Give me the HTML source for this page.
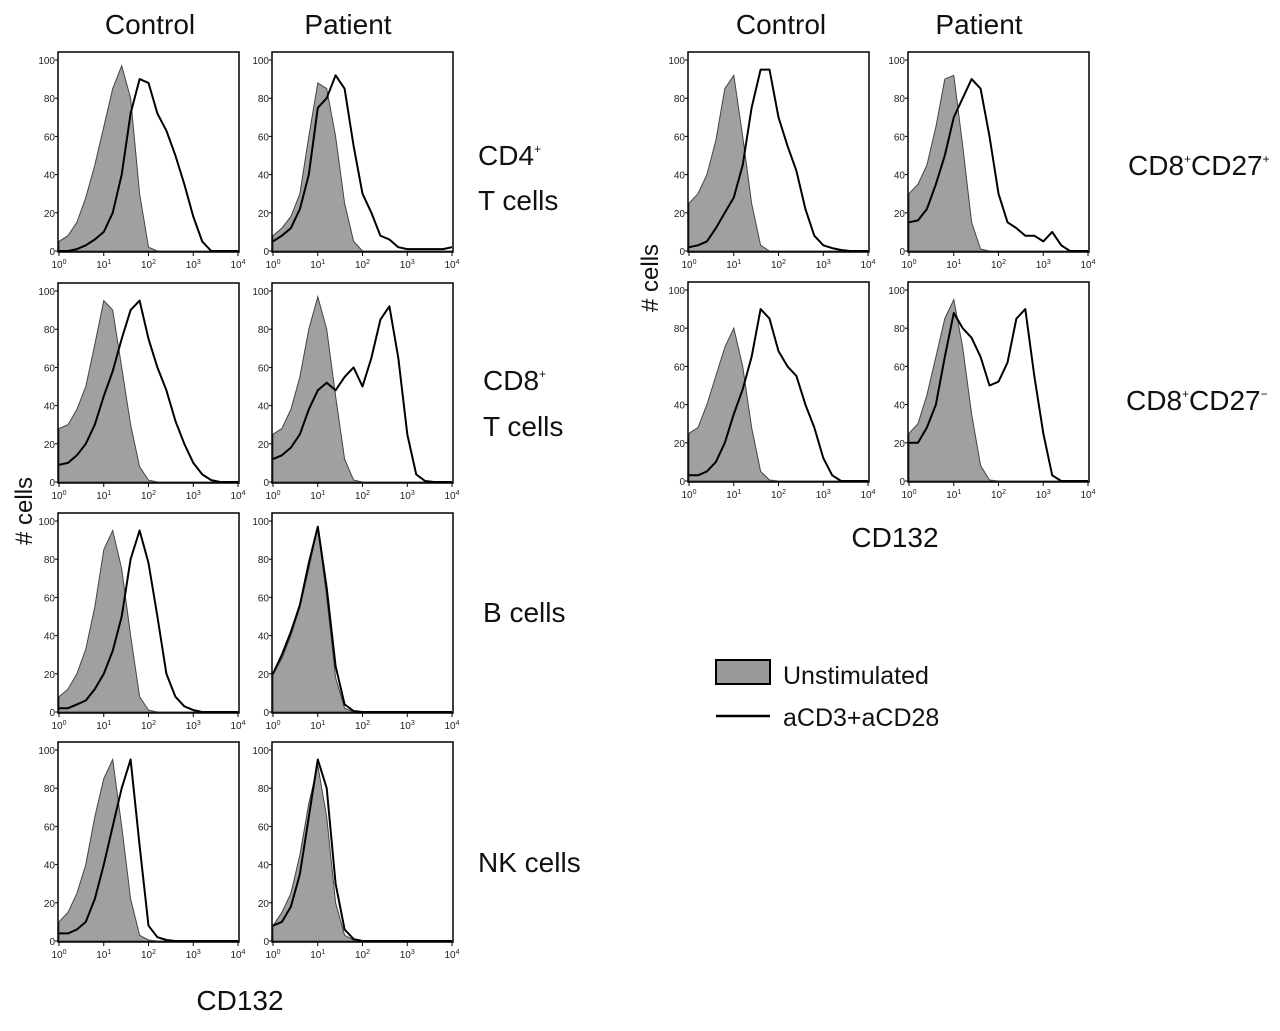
<!DOCTYPE html>
<html><head><meta charset="utf-8"><style>
body{margin:0;background:#fff;width:1280px;height:1031px;overflow:hidden;font-family:"Liberation Sans Narrow","Liberation Sans",sans-serif;}
svg{position:absolute;left:0;top:0}
.t{font-size:28px;fill:#111}
.tk{font-size:10px;fill:#222;font-family:"Liberation Sans Narrow","Liberation Sans",sans-serif}
</style></head><body>
<svg id="fig" width="1280" height="1031">
<g>
<text class="t" x="150" y="34" text-anchor="middle">Control</text>
<text class="t" x="348" y="34" text-anchor="middle">Patient</text>
<text class="t" x="781" y="34" text-anchor="middle">Control</text>
<text class="t" x="979" y="34" text-anchor="middle">Patient</text>
</g>
<g>
<text class="t" x="478" y="165">CD4<tspan font-size="12" dy="-12">+</tspan></text>
<text class="t" x="478" y="210">T cells</text>
<text class="t" x="483" y="390">CD8<tspan font-size="12" dy="-12">+</tspan></text>
<text class="t" x="483" y="436">T cells</text>
<text class="t" x="483" y="622">B cells</text>
<text class="t" x="478" y="872">NK cells</text>
<text class="t" x="1128" y="175">CD8<tspan font-size="12" dy="-12">+</tspan><tspan dy="12">CD27</tspan><tspan font-size="12" dy="-12">+</tspan></text>
<text class="t" x="1126" y="410">CD8<tspan font-size="12" dy="-12">+</tspan><tspan dy="12">CD27</tspan><tspan font-size="12" dy="-12">−</tspan></text>
</g>
<text class="t" transform="translate(32,545) rotate(-90)" style="font-size:24px"># cells</text>
<text class="t" transform="translate(658,312) rotate(-90)" style="font-size:24px"># cells</text>
<text class="t" x="240" y="1010" text-anchor="middle">CD132</text>
<text class="t" x="895" y="547" text-anchor="middle">CD132</text>
<g>
<rect x="716" y="660" width="54" height="24" fill="#999" stroke="#000" stroke-width="2"/>
<text class="t" x="783" y="684" style="font-size:25px">Unstimulated</text>
<line x1="716" y1="716" x2="770" y2="716" stroke="#000" stroke-width="2.5"/>
<text class="t" x="783" y="726" style="font-size:25px">aCD3+aCD28</text>
</g>
</svg>
<script>
const logX=[0,0.2,0.4,0.6,0.8,1.0,1.2,1.4,1.6,1.8,2.0,2.2,2.4,2.6,2.8,3.0,3.2,3.4,3.6,3.8,4.0];
const yTicks=[0,20,40,60,80,100];
const xTickExp=[0,1,2,3,4];
const cd4CtrlGrey=[5,8,15,28,45,65,85,97,80,30,2,0,0,0,0,0,0,0,0,0,0];
const cd4CtrlBlack=[0,0,1,3,6,10,20,40,72,90,88,72,63,50,35,18,5,0,0,0,0];
const cd4PatGrey=[8,12,18,30,60,88,85,60,25,5,0,0,0,0,0,0,0,0,0,0,0];
const cd4PatBlack=[5,8,12,22,40,75,80,92,85,55,30,20,8,6,2,1,1,1,1,1,2];
const cd8CtrlGrey=[28,30,38,50,72,95,90,60,30,8,1,0,0,0,0,0,0,0,0,0,0];
const cd8CtrlBlack=[9,10,14,20,30,45,58,75,90,95,75,60,48,32,20,10,4,1,0,0,0];
const cd8PatGrey=[25,28,38,55,80,97,80,45,12,1,0,0,0,0,0,0,0,0,0,0,0];
const cd8PatBlack=[12,14,18,25,38,48,52,48,55,60,50,65,85,92,65,25,4,0.5,0,0,0];
const bCtrlGrey=[8,12,20,33,55,85,95,75,40,8,1,0,0,0,0,0,0,0,0,0,0];
const bCtrlBlack=[2,2,4,6,12,20,32,50,80,95,78,50,20,8,3,1,0,0,0,0,0];
const bPatGrey=[20,28,40,55,75,97,60,18,2,0,0,0,0,0,0,0,0,0,0,0,0];
const bPatBlack=[20,30,42,56,78,97,65,24,4,0.5,0,0,0,0,0,0,0,0,0,0,0];
const nkCtrlGrey=[10,15,25,40,65,85,95,60,22,3,0.5,0,0,0,0,0,0,0,0,0,0];
const nkCtrlBlack=[4,4,6,10,22,40,60,80,95,50,8,2,0.5,0,0,0,0,0,0,0,0];
const nkPatGrey=[8,15,25,45,72,92,65,20,3,0.5,0,0,0,0,0,0,0,0,0,0,0];
const nkPatBlack=[8,10,18,35,65,95,80,30,6,1,0,0,0,0,0,0,0,0,0,0,0];
const c27pCtrlGrey=[25,30,40,58,85,92,60,25,3,0,0,0,0,0,0,0,0,0,0,0,0];
const c27pCtrlBlack=[2,3,5,12,20,28,45,75,95,95,70,55,42,22,8,3,1.5,0.5,0,0,0];
const c27pPatGrey=[30,35,45,65,90,92,55,15,1,0,0,0,0,0,0,0,0,0,0,0,0];
const c27pPatBlack=[15,16,22,35,50,70,80,90,85,60,30,15,12,8,8,5,10,3,0,0,0];
const c27nCtrlGrey=[25,28,40,55,70,80,60,28,5,0.5,0,0,0,0,0,0,0,0,0,0,0];
const c27nCtrlBlack=[3,3,5,10,20,35,48,65,90,85,68,60,55,40,28,12,3,0,0,0,0];
const c27nPatGrey=[25,30,45,65,85,95,70,35,8,0.5,0,0,0,0,0,0,0,0,0,0,0];
const c27nPatBlack=[20,20,28,40,65,88,80,75,65,50,52,62,85,90,55,25,3,0,0,0,0];

const panels=[
 {n:'cd4-control',x:58,y:52,g:cd4CtrlGrey,b:cd4CtrlBlack},
 {n:'cd4-patient',x:272,y:52,g:cd4PatGrey,b:cd4PatBlack},
 {n:'cd8-control',x:58,y:283,g:cd8CtrlGrey,b:cd8CtrlBlack},
 {n:'cd8-patient',x:272,y:283,g:cd8PatGrey,b:cd8PatBlack},
 {n:'b-control',x:58,y:513,g:bCtrlGrey,b:bCtrlBlack},
 {n:'b-patient',x:272,y:513,g:bPatGrey,b:bPatBlack},
 {n:'nk-control',x:58,y:742,g:nkCtrlGrey,b:nkCtrlBlack},
 {n:'nk-patient',x:272,y:742,g:nkPatGrey,b:nkPatBlack},
 {n:'cd27pos-control',x:688,y:52,g:c27pCtrlGrey,b:c27pCtrlBlack},
 {n:'cd27pos-patient',x:908,y:52,g:c27pPatGrey,b:c27pPatBlack},
 {n:'cd27neg-control',x:688,y:282,g:c27nCtrlGrey,b:c27nCtrlBlack},
 {n:'cd27neg-patient',x:908,y:282,g:c27nPatGrey,b:c27nPatBlack}
];
const NS='http://www.w3.org/2000/svg';
const svg=document.getElementById('fig');
function mk(t,a){const e=document.createElementNS(NS,t);for(const k in a)e.setAttribute(k,a[k]);return e;}
const W=181,H=200;
panels.forEach(p=>{
 const xs=v=>p.x+1+v/4*(W-2);
 const ys=v=>p.y+H-1-v/100*(H-9);
 const g=mk('g',{});
 
 
 svg.appendChild(g);
 let d='M'+xs(0)+','+ys(0);
 logX.forEach((lx,i)=>{d+=' L'+xs(lx).toFixed(1)+','+ys(p.g[i]).toFixed(1);});
 d+=' L'+xs(4)+','+ys(0)+' Z';
 const area=mk('path',{d:d,fill:'#a0a0a0',stroke:'#444','stroke-width':1});
 
 
 g.appendChild(area);
 let d2='';
 logX.forEach((lx,i)=>{d2+=(i?' L':'M')+xs(lx).toFixed(1)+','+ys(p.b[i]).toFixed(1);});
 const ln=mk('path',{d:d2,fill:'none',stroke:'#000','stroke-width':2,'stroke-linejoin':'round'});
 
 
 g.appendChild(ln);
 const fr=mk('rect',{x:p.x,y:p.y,width:W,height:H,fill:'none',stroke:'#000','stroke-width':1.5});
 
 
 g.appendChild(fr);
 yTicks.forEach(v=>{
  const t=mk('text',{x:p.x-3,y:ys(v)+4,'text-anchor':'end',class:'tk'});
  
  
  t.textContent=v;g.appendChild(t);
  g.appendChild(mk('line',{x1:p.x-3,x2:p.x,y1:ys(v),y2:ys(v),stroke:'#000'}));
 });
 xTickExp.forEach(e=>{
  const t=mk('text',{x:xs(e),y:p.y+H+16,'text-anchor':'middle',class:'tk'});
  
  
  t.textContent='10';
  const s=mk('tspan',{'font-size':7,dy:-4});s.textContent=e;t.appendChild(s);
  g.appendChild(t);
  g.appendChild(mk('line',{x1:xs(e),x2:xs(e),y1:p.y+H,y2:p.y+H+4,stroke:'#000'}));
 });
});
</script>
</body></html>
